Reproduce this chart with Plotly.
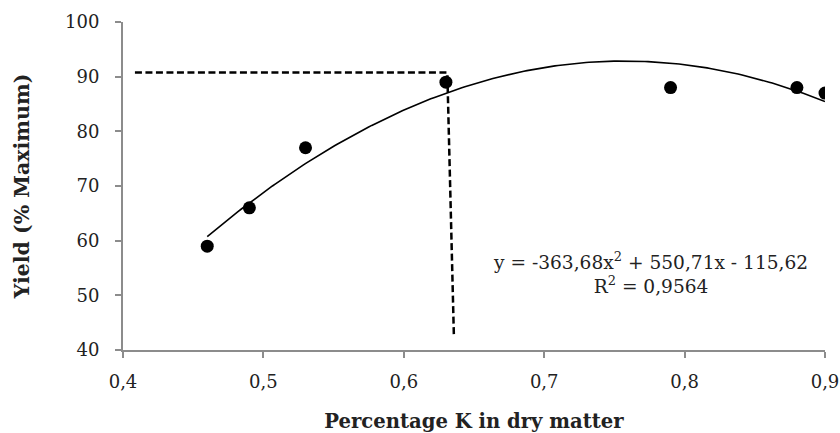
import numpy as np
import plotly.graph_objects as go

# Data
k_pct = [0.46, 0.49, 0.53, 0.63, 0.79, 0.88, 0.90]
yield_pct = [59, 66, 77, 89, 88, 88, 87]

# Trendline coefficients (as printed on chart)
coef_a, coef_b, coef_c = -363.68, 550.71, -115.62
trend_range = [0.46, 0.90]

# Guide (dashed) line vertices
guide_x = [0.4085, 0.631, 0.6357]
guide_y = [90.75, 90.75, 42.3]

x_ticks = [0.4, 0.5, 0.6, 0.7, 0.8, 0.9]
x_ticklabels = ["0,4", "0,5", "0,6", "0,7", "0,8", "0,9"]
y_ticks = [40, 50, 60, 70, 80, 90, 100]

tx = np.linspace(trend_range[0], trend_range[1], 200)
ty = coef_a * tx**2 + coef_b * tx + coef_c

fig = go.Figure()
fig.add_trace(go.Scatter(x=guide_x, y=guide_y, mode="lines",
                         line=dict(color="black", width=2.5, dash="7px,3.5px"),
                         hoverinfo="skip"))
fig.add_trace(go.Scatter(x=tx, y=ty, mode="lines",
                         line=dict(color="black", width=1.6)))
fig.add_trace(go.Scatter(x=k_pct, y=yield_pct, mode="markers",
                         marker=dict(color="black", size=13)))

serif = "DejaVu Serif"
axis_color = "#8c8c8c"
fig.update_layout(
    width=840, height=433,
    margin=dict(l=123, r=15, t=22, b=82.5),
    paper_bgcolor="white", plot_bgcolor="white",
    showlegend=False,
    font=dict(family=serif, color="#222222", size=18),
    xaxis=dict(range=[0.4, 0.9], tickvals=x_ticks, ticktext=x_ticklabels,
               automargin=False,
               showline=True, linecolor=axis_color, linewidth=2,
               ticks="outside", ticklen=6, tickwidth=1.5, tickcolor=axis_color,
               showgrid=False, zeroline=False,
               tickfont=dict(family=serif, size=18, color="#222222"),
               ticklabelstandoff=8,
               title=dict(text="<b>Percentage K in dry matter</b>",
                          font=dict(family=serif, size=19.6, color="#222222"),
                          standoff=24)),
    yaxis=dict(range=[40, 100], tickvals=y_ticks,
               automargin=False,
               showline=True, linecolor=axis_color, linewidth=2,
               ticks="outside", ticklen=6, tickwidth=1.5, tickcolor=axis_color,
               showgrid=False, zeroline=False,
               tickfont=dict(family=serif, size=18, color="#222222"),
               ticklabelstandoff=12,
               title=dict(text="<b>Yield (% Maximum)</b>",
                          font=dict(family=serif, size=20.5, color="#222222"),
                          standoff=30)),
    annotations=[dict(x=0.776, y=54.06, xref="x", yref="y",
                      text="y = -363,68x<sup>2</sup> + 550,71x - 115,62<br>R<sup>2</sup> = 0,9564",
                      showarrow=False, align="center", xanchor="center", yanchor="middle",
                      font=dict(family=serif, size=18.6, color="#222222"))],
)

fig.write_html("out.html")
